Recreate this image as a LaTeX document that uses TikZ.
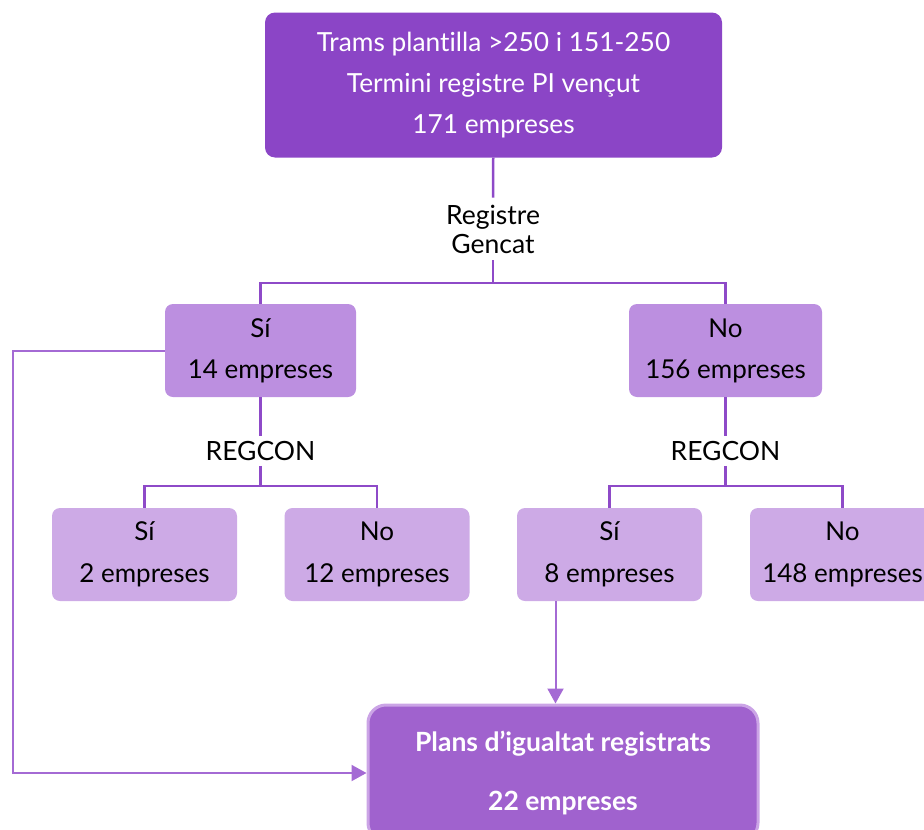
\documentclass[tikz,border=0pt]{standalone}
\usepackage{fontspec}
\setmainfont[Ligatures={NoCommon}]{Lato}
\usetikzlibrary{arrows.meta}

\definecolor{violetdark}{HTML}{8B45C6}
\definecolor{violetmid}{HTML}{BC8FE0}
\definecolor{violetlight}{HTML}{CDAAE6}
\definecolor{violetplan}{HTML}{A062CE}
\definecolor{violetrim}{HTML}{CBA4E6}
\definecolor{violetline}{HTML}{8E4AC8}
\definecolor{violetloop}{HTML}{A46AD4}

\tikzset{
    topbox/.style={fill=violetdark, rounded corners=10pt, text=white, align=center,
        minimum width=457pt, minimum height=145pt, font=\fontsize{26.3}{41}\selectfont},
    midbox/.style={fill=violetmid, rounded corners=8pt, align=center,
        minimum width=191pt, minimum height=93pt, font=\fontsize{26}{41}\selectfont},
    lowbox/.style={fill=violetlight, rounded corners=8pt, align=center,
        minimum width=185pt, minimum height=93pt, font=\fontsize{26}{42}\selectfont},
    planbox/.style={fill=violetplan, draw=violetrim, line width=3pt, rounded corners=18pt,
        text=white, align=center, minimum width=390pt, minimum height=136pt,
        font=\bfseries\fontsize{26.5}{59}\selectfont},
    question/.style={align=center, inner sep=7pt, font=\fontsize{26.5}{29}\selectfont},
    branch/.style={draw=violetline, line width=2.5pt},
    flow/.style={draw=violetloop, line width=2pt, -{Triangle[length=15pt,width=16pt]}},
}

\begin{document}
\begin{tikzpicture}[x=1pt, y=-1pt]
    \useasboundingbox (0, 0) rectangle (924, 830);

    % first level
    \node[topbox] (trams) at (493.5, 85)
        {Trams plantilla >250 i 151-250\\Termini registre PI vençut\\171 empreses};
    \node[question] (gencat) at (493, 229) {Registre\\Gencat};

    % second level
    \node[midbox] (gencatSi) at (260.5, 350.5) {Sí\\14 empreses};
    \node[midbox, minimum width=193pt] (gencatNo) at (725.5, 350.5) {No\\156 empreses};

    \node[question, inner sep=5pt] (regconL) at (260.5, 451) {REGCON};
    \node[question, inner sep=5pt] (regconR) at (725.5, 451) {REGCON};

    % third level
    \node[lowbox] (siSi) at (144.5, 554.5) {Sí\\2 empreses};
    \node[lowbox] (siNo) at (377, 554.5) {No\\12 empreses};
    \node[lowbox] (noSi) at (609.5, 554.5) {Sí\\8 empreses};
    \node[lowbox] (noNo) at (842.5, 554.5) {No\\148 empreses};

    % result
    \node[planbox] (plans) at (563, 773) {Plans d’igualtat registrats\\22 empreses};

    % connectors
    \coordinate (forkTop) at (493, 283);
    \coordinate (forkL) at (260.5, 486);
    \coordinate (forkR) at (725.5, 486);

    \draw[branch] (trams) -- (gencat);
    \draw[branch] (gencat) -- (forkTop);
    \draw[branch] (forkTop) -| (gencatSi);
    \draw[branch] (forkTop) -| (gencatNo);

    \draw[branch] (gencatSi) -- (regconL);
    \draw[branch] (regconL) -- (forkL);
    \draw[branch] (forkL) -| (siSi);
    \draw[branch] (forkL) -| (siNo);

    \draw[branch] (gencatNo) -- (regconR);
    \draw[branch] (regconR) -- (forkR);
    \draw[branch] (forkR) -| (noSi);
    \draw[branch] (forkR) -| (noNo);

    \draw[flow] ([xshift=-54pt]noSi.south) -- ([xshift=-54pt]noSi.south |- plans.north);
    \draw[flow] (gencatSi.west) -- ++(-152, 0) |- (plans.west);

\end{tikzpicture}
\end{document}
